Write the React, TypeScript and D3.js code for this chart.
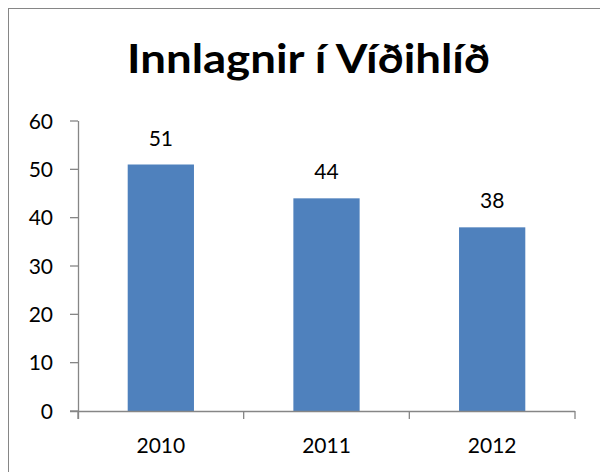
import React, { useEffect, useRef } from "react";
import * as d3 from "d3";

const title = "Innlagnir í Víðihlíð";
const years = ["2010", "2011", "2012"];
const admissions = [51, 44, 38];
const yTicks = [0, 10, 20, 30, 40, 50, 60];

export default function App() {
  const ref = useRef<SVGSVGElement>(null);

  useEffect(() => {
    document.body.style.margin = "0";
    const svg = d3.select(ref.current);
    svg.selectAll("*").remove();

    const left = 78, right = 575, top = 121, bottom = 411;
    const font = "Lato, 'Open Sans', sans-serif";
    const grey = "#868686";

    // outer frame (only top and left edges fall inside the window)
    svg.append("rect")
      .attr("x", 8.5).attr("y", 8.5)
      .attr("width", 700).attr("height", 600)
      .attr("fill", "white").attr("stroke", grey);

    svg.append("text")
      .attr("x", 308.5).attr("y", 72.5)
      .attr("text-anchor", "middle")
      .attr("font-family", font)
      .attr("font-weight", "bold")
      .attr("font-size", 40)
      .attr("textLength", 363)
      .attr("lengthAdjust", "spacingAndGlyphs")
      .text(title);

    var x = d3.scaleBand().domain(years).range([left, right]).paddingInner(0.6).paddingOuter(0.3);
    var y = d3.scaleLinear().domain([0, 60]).range([bottom, top]);

    svg.selectAll(".bar")
      .data(admissions)
      .join("rect")
      .attr("class", "bar")
      .attr("x", (d, i) => x(years[i])!)
      .attr("y", (d) => y(d))
      .attr("width", x.bandwidth())
      .attr("height", (d) => bottom - y(d))
      .attr("fill", "#4f81bd");

    svg.selectAll(".val")
      .data(admissions)
      .join("text")
      .attr("class", "val")
      .attr("x", (d, i) => x(years[i])! + x.bandwidth() / 2)
      .attr("y", (d) => y(d) - 19)
      .attr("text-anchor", "middle")
      .attr("font-family", font)
      .attr("font-size", 21)
      .text((d) => d);

    // y axis
    const yAxis = svg.append("g");
    yAxis.append("line")
      .attr("x1", left + 0.5).attr("x2", left + 0.5)
      .attr("y1", top).attr("y2", bottom + 8)
      .attr("stroke", grey).attr("stroke-width", 1.3);
    yTicks.forEach((t) => {
      yAxis.append("line")
        .attr("x1", left - 8).attr("x2", left)
        .attr("y1", y(t)).attr("y2", y(t))
        .attr("stroke", grey).attr("stroke-width", 1.3);
      yAxis.append("text")
        .attr("x", 53).attr("y", y(t) + 7.5)
        .attr("text-anchor", "end")
        .attr("font-family", font)
        .attr("font-size", 21)
        .text(t);
    });

    // x axis
    const xAxis = svg.append("g");
    xAxis.append("line")
      .attr("x1", left - 8).attr("x2", right)
      .attr("y1", bottom + 0.5).attr("y2", bottom + 0.5)
      .attr("stroke", grey).attr("stroke-width", 1.3);
    const step = (right - left) / years.length;
    d3.range(years.length + 1).forEach((i) => {
      xAxis.append("line")
        .attr("x1", left + i * step).attr("x2", left + i * step)
        .attr("y1", bottom).attr("y2", bottom + 8)
        .attr("stroke", grey).attr("stroke-width", 1.3);
    });
    years.forEach((yr) => {
      xAxis.append("text")
        .attr("x", x(yr)! + x.bandwidth() / 2)
        .attr("y", 453)
        .attr("text-anchor", "middle")
        .attr("font-family", font)
        .attr("font-size", 21)
        .text(yr);
    });
  }, []);

  return <svg ref={ref} width={600} height={472} style={{ display: "block" }} />;
}
